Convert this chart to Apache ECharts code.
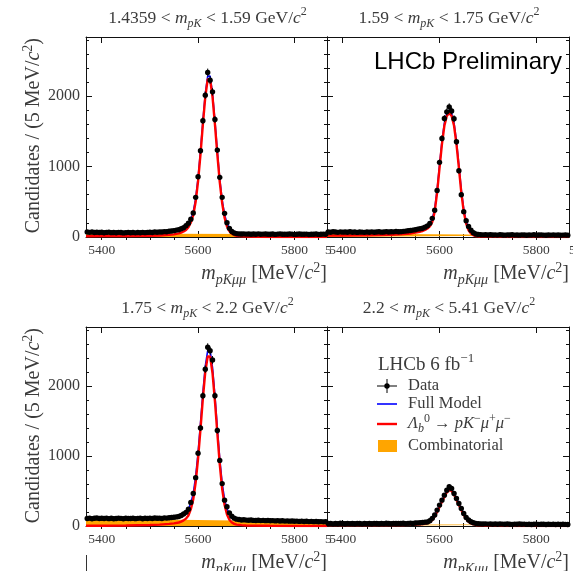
<!DOCTYPE html>
<html><head><meta charset="utf-8">
<script src="https://cdn.jsdelivr.net/npm/echarts@6/dist/echarts.min.js"></script>
<style>html,body{margin:0;padding:0;background:#fff}#c{width:573px;height:571px}</style>
</head><body><div id="c"></div><script>
// ---------------- data ----------------
const BIN_START = 5370, BIN_WIDTH = 5;          // histogram bin centres: 5370, 5375, ...
const X_MIN = 5367.5, X_MAX = 5867.5;
const Y_MIN = 0, Y_MAX = 2840;
const X_MAJOR = [5400, 5600, 5800];
const X_MINOR = [5400, 5450, 5500, 5550, 5600, 5650, 5700, 5750, 5800, 5850];
const Y_MAJOR = [0, 1000, 2000];
const Y_MINOR = [200, 400, 600, 800, 1000, 1200, 1400, 1600, 1800, 2000, 2200, 2400, 2600, 2800];
const PANEL_RANGES = [['1.4359', '1.59'], ['1.59', '1.75'], ['1.75', '2.2'], ['2.2', '5.41']];

const TL_DATA = [
70,66,72,64,68,63,67,61,65,69,
62,64,60,66,63,58,62,65,60,63,
59,64,61,66,62,65,68,64,70,67,
72,70,76,74,82,86,90,98,104,118,
132,160,196,252,340,563,855,1224,1650,2014,
2336,2227,2061,1669,1234,847,563,336,203,123,
78,56,48,44,42,44,41,43,39,42,
40,45,38,41,43,40,39,42,37,41,
44,39,40,38,42,41,37,40,43,39,
38,41,36,40,38,42,37,39,41,38];
const TR_DATA = [
72,68,75,70,66,73,69,71,67,74,
68,70,65,72,69,66,71,68,73,67,
70,74,69,72,76,71,75,73,78,74,
76,80,84,88,92,98,104,112,118,124,
140,158,194,265,380,660,1060,1400,1683,1777,
1848,1790,1680,1352,940,600,360,230,150,95,
61,43,36,32,30,33,29,31,28,30,
27,31,29,26,30,28,32,27,29,26,
30,28,25,29,27,31,26,28,30,27,
25,29,27,30,26,28,25,27,29,26];
const BL_DATA = [
108,112,104,110,115,106,111,108,113,105,
110,104,107,112,109,103,111,108,106,110,
105,109,113,104,110,107,112,106,114,110,
112,108,116,113,118,121,124,130,136,150,
172,195,240,335,464,690,1040,1400,1858,2237,
2550,2500,2370,1858,1362,936,605,369,274,188,
140,112,98,92,86,90,84,82,86,80,
79,83,77,80,76,79,74,77,73,76,
72,75,70,73,69,72,67,70,66,69,
65,68,63,66,62,64,61,63,59,62];
const BR_DATA = [
34,38,31,36,33,39,35,32,37,34,
36,33,38,35,31,37,34,36,32,38,
35,33,37,34,39,36,33,38,35,37,
36,39,34,38,41,37,42,44,47,50,
55,58,75,109,156,227,298,369,440,511,
560,535,464,393,322,251,180,123,85,61,
47,38,33,30,28,31,27,29,26,28,
25,29,27,24,28,26,23,27,25,28,
24,27,23,26,22,25,27,23,26,24,
22,25,23,26,21,24,22,25,23,21];

const MODEL_X = [5367.5,5400,5450,5500,5520,5540,5550,5560,5565,5570,
5575,5580,5585,5590,5595,5600,5605,5610,5615,5620,
5625,5630,5635,5640,5645,5650,5655,5660,5665,5670,
5675,5680,5690,5700,5750,5800,5867.5];
const TL_RED  = [10,12,14,18,22,30,38,52,63,78, 100,140,205,310,500,790,1170,1600,1990,2240, 2240,1990,1600,1170,780,480,275,150,82,46, 28,18,9,5,1,0,0];
const TL_FULL = [60,61,62,65,69,77,84,98,109,124, 146,186,251,356,546,835,1215,1645,2035,2285, 2285,2035,1645,1215,824,524,319,194,126,90, 72,62,52,48,43,41,40];
const TR_RED  = [20,21,23,30,38,50,62,75,85,100, 120,150,215,360,630,980,1320,1580,1720,1760, 1720,1580,1320,980,630,360,190,95,48,25, 14,8,4,2,0,0,0];
const TR_FULL = [70,69,69,74,81,92,103,116,126,140, 160,190,255,399,669,1019,1359,1618,1758,1798, 1757,1617,1357,1017,667,396,226,131,84,60, 49,43,38,36,32,29,26];
const BL_RED  = [3,4,7,14,20,30,38,50,62,80, 105,150,240,380,620,960,1380,1820,2200,2420, 2420,2180,1780,1320,880,530,300,165,90,50, 30,20,12,8,3,1,0];
const BL_FULL = [109,107,105,108,112,120,127,138,150,167, 192,237,326,466,705,1045,1464,1904,2283,2503, 2502,2262,1861,1401,960,610,380,244,169,128, 108,97,88,83,74,67,60];
const BR_RED  = [12,12,13,14,15,17,20,24,27,32, 40,55,85,135,200,272,345,415,478,512, 500,445,375,300,228,158,100,62,38,24, 15,10,5,3,1,0,0];
const BR_FULL = [35,35,36,37,38,40,43,47,50,54, 62,77,107,157,222,294,367,437,500,534, 522,467,397,322,250,180,122,84,60,46, 37,32,27,25,22,21,21];

const COMB_X = [5367.5, 5867.5];
const TL_COMB = [50, 40];
const TR_COMB = [50, 26];
const BL_COMB = [106, 60];
const BR_COMB = [23, 21];

const PANELS = [
  {data: TL_DATA, red: TL_RED, full: TL_FULL, comb: TL_COMB},
  {data: TR_DATA, red: TR_RED, full: TR_FULL, comb: TR_COMB},
  {data: BL_DATA, red: BL_RED, full: BL_FULL, comb: BL_COMB},
  {data: BR_DATA, red: BR_RED, full: BR_FULL, comb: BR_COMB}
];

// ---------------- style / layout ----------------
const SERIF = '"Liberation Serif","Times New Roman",serif';
const SANS = '"Liberation Sans",Arial,sans-serif';
const TXT = '#3c3c3c';
const FRAME = '#111';
const ORANGE = '#FFA500', BLUE = '#0000FF', RED = '#FF0000';
const GRIDS = [
  {left: 86, top: 37, width: 241, height: 200},
  {left: 327, top: 37, width: 242, height: 200},
  {left: 86, top: 327, width: 241, height: 199},
  {left: 327, top: 327, width: 242, height: 199}
];

function rich(size) {
  const s = Math.round(size * 0.7);
  const base = {fontFamily: SERIF, fill: TXT};
  return {
    r:   Object.assign({}, base, {fontSize: size, lineHeight: size + 6}),
    i:   Object.assign({}, base, {fontSize: size, fontStyle: 'italic', lineHeight: size + 6}),
    sub: Object.assign({}, base, {fontSize: s, fontStyle: 'italic', lineHeight: s, verticalAlign: 'bottom'}),
    sup: Object.assign({}, base, {fontSize: s, lineHeight: s, verticalAlign: 'top'})
  };
}

const plain = v => String(v);
const xAxis = [], yAxis = [];
GRIDS.forEach((g, gi) => {
  const xb = {type: 'value', gridIndex: gi, min: X_MIN, max: X_MAX, splitLine: {show: false}};
  const yb = {type: 'value', gridIndex: gi, min: Y_MIN, max: Y_MAX, splitLine: {show: false}};
  const line = {show: true, onZero: false, lineStyle: {color: FRAME, width: 1}};
  const tickMaj = (vals) => ({show: true, inside: true, length: 6, customValues: vals, lineStyle: {color: FRAME, width: 1}});
  const tickMin = (vals) => ({show: true, inside: true, length: 3, customValues: vals, lineStyle: {color: FRAME, width: 1}});
  xAxis.push(Object.assign({}, xb, {position: 'bottom', axisLine: line, axisTick: tickMaj(X_MAJOR),
    axisLabel: {show: true, customValues: X_MAJOR, formatter: plain, fontFamily: SERIF, fontSize: 13.5, color: TXT, margin: 6}}));
  xAxis.push(Object.assign({}, xb, {position: 'bottom', axisLine: {show: false}, axisTick: tickMin(X_MINOR), axisLabel: {show: false}}));
  xAxis.push(Object.assign({}, xb, {position: 'top', axisLine: line, axisTick: tickMaj(X_MAJOR), axisLabel: {show: false}}));
  xAxis.push(Object.assign({}, xb, {position: 'top', axisLine: {show: false}, axisTick: tickMin(X_MINOR), axisLabel: {show: false}}));
  const leftLabels = (gi % 2 === 0);
  yAxis.push(Object.assign({}, yb, {position: 'left', axisLine: line, axisTick: tickMaj(Y_MAJOR),
    axisLabel: {show: leftLabels, customValues: Y_MAJOR, formatter: plain, fontFamily: SERIF, fontSize: 16, color: TXT, margin: 6}}));
  yAxis.push(Object.assign({}, yb, {position: 'left', axisLine: {show: false}, axisTick: tickMin(Y_MINOR), axisLabel: {show: false}}));
  yAxis.push(Object.assign({}, yb, {position: 'right', axisLine: line, axisTick: tickMaj(Y_MAJOR), axisLabel: {show: false}}));
  yAxis.push(Object.assign({}, yb, {position: 'right', axisLine: {show: false}, axisTick: tickMin(Y_MINOR), axisLabel: {show: false}}));
});

const series = [];
PANELS.forEach((p, gi) => {
  const ax = {xAxisIndex: gi * 4, yAxisIndex: gi * 4, animation: false, silent: true};
  series.push(Object.assign({type: 'line', symbol: 'none', z: 1,
    data: COMB_X.map((x, i) => [x, p.comb[i]]),
    lineStyle: {width: 0, color: ORANGE}, areaStyle: {color: ORANGE, opacity: 1}}, ax));
  series.push(Object.assign({type: 'line', symbol: 'none', z: 2,
    data: MODEL_X.map((x, i) => [x, p.full[i]]),
    lineStyle: {width: 1.6, color: BLUE}}, ax));
  series.push(Object.assign({type: 'line', symbol: 'none', z: 3,
    data: MODEL_X.map((x, i) => [x, p.red[i]]),
    lineStyle: {width: 2.4, color: RED}}, ax));
  series.push(Object.assign({type: 'custom', z: 4, encode: {x: 0, y: 1},
    data: p.data.map((v, i) => [BIN_START + i * BIN_WIDTH, v]),
    renderItem: function (params, api) {
      const x = api.value(0), y = api.value(1);
      const c = api.coord([x, y]);
      const e = Math.sqrt(y);
      const t = api.coord([x, y + e]), b = api.coord([x, Math.max(0, y - e)]);
      const l = api.coord([x - BIN_WIDTH / 2, y]), r = api.coord([x + BIN_WIDTH / 2, y]);
      return {type: 'group', children: [
        {type: 'line', shape: {x1: c[0], y1: t[1] - 0.5, x2: c[0], y2: b[1] + 0.5}, style: {stroke: '#000', lineWidth: 1}},
        {type: 'line', shape: {x1: l[0], y1: c[1], x2: r[0], y2: c[1]}, style: {stroke: '#000', lineWidth: 1}},
        {type: 'circle', shape: {cx: c[0], cy: c[1], r: 2.7}, style: {fill: '#000'}}
      ]};
    }}, ax));
});

// ---------------- texts ----------------
const graphic = [];
GRIDS.forEach((g, gi) => {
  const rg = PANEL_RANGES[gi];
  graphic.push({type: 'text', x: g.left + g.width / 2 + 1, y: g.top - 19, silent: true,
    style: {text: '{r|' + rg[0] + ' < }{i|m}{sub|pK}{r| < ' + rg[1] + ' GeV/}{i|c}{sup|2}',
      rich: rich(17.5), align: 'center', verticalAlign: 'middle'}});
  graphic.push({type: 'text', x: g.left + g.width, y: g.top + g.height + 37, silent: true,
    style: {text: '{i|m}{sub|pKμμ}{r| [MeV/}{i|c}{sup|2}{r|]}', rich: rich(20), align: 'right', verticalAlign: 'middle'}});
  if (gi % 2 === 0) {
    graphic.push({type: 'text', x: 34, y: g.top + 1, rotation: Math.PI / 2, silent: true,
      style: {text: '{r|Candidates / (5 MeV/}{i|c}{sup|2}{r|)}', rich: rich(20), align: 'right', verticalAlign: 'middle'}});
  }
});
// clipped tick-label fragments at the right edge of the panels
[[325, 250], [325, 539], [569, 250]].forEach(p => graphic.push({type: 'text', x: p[0], y: p[1], silent: true,
  style: {text: '5', fontFamily: SERIF, fontSize: 13.5, fill: TXT, align: 'left', verticalAlign: 'middle'}}));
graphic.push({type: 'line', silent: true, shape: {x1: 86.5, y1: 555, x2: 86.5, y2: 571}, style: {stroke: '#333', lineWidth: 1}});

graphic.push({type: 'text', x: 562, y: 62, silent: true,
  style: {text: 'LHCb Preliminary', fontFamily: SANS, fontSize: 24, fill: '#000', align: 'right', verticalAlign: 'middle'}});

// legend (bottom-right panel)
const LR = rich(16.5), LT = rich(19);
graphic.push({type: 'text', x: 378, y: 365, silent: true,
  style: {text: '{r|LHCb 6 fb}{sup|−1}', rich: LT, align: 'left', verticalAlign: 'middle'}});
graphic.push({type: 'line', silent: true, shape: {x1: 377, y1: 386, x2: 397, y2: 386}, style: {stroke: '#000', lineWidth: 1}});
graphic.push({type: 'line', silent: true, shape: {x1: 387, y1: 379, x2: 387, y2: 393}, style: {stroke: '#000', lineWidth: 1}});
graphic.push({type: 'circle', silent: true, shape: {cx: 387, cy: 386, r: 2.7}, style: {fill: '#000'}});
graphic.push({type: 'text', x: 408, y: 386, silent: true, style: {text: '{r|Data}', rich: LR, align: 'left', verticalAlign: 'middle'}});
graphic.push({type: 'line', silent: true, shape: {x1: 377, y1: 404, x2: 397, y2: 404}, style: {stroke: BLUE, lineWidth: 1.6}});
graphic.push({type: 'text', x: 408, y: 404, silent: true, style: {text: '{r|Full Model}', rich: LR, align: 'left', verticalAlign: 'middle'}});
graphic.push({type: 'line', silent: true, shape: {x1: 377, y1: 424, x2: 397, y2: 424}, style: {stroke: RED, lineWidth: 2.4}});
graphic.push({type: 'text', x: 408, y: 424, silent: true,
  style: {text: '{i|Λ}{sub|b}{sup|0}{r| → }{i|pK}{sup|−}{i|μ}{sup|+}{i|μ}{sup|−}', rich: LR, align: 'left', verticalAlign: 'middle'}});
graphic.push({type: 'rect', silent: true, shape: {x: 378, y: 440, width: 19, height: 12}, style: {fill: ORANGE}});
graphic.push({type: 'text', x: 408, y: 446, silent: true, style: {text: '{r|Combinatorial}', rich: LR, align: 'left', verticalAlign: 'middle'}});

const chart = echarts.init(document.getElementById('c'), null, {renderer: 'canvas'});
chart.setOption({
  animation: false,
  backgroundColor: '#fff',
  grid: GRIDS.map(g => Object.assign({containLabel: false}, g)),
  xAxis, yAxis, series, graphic
});
</script></body></html>
